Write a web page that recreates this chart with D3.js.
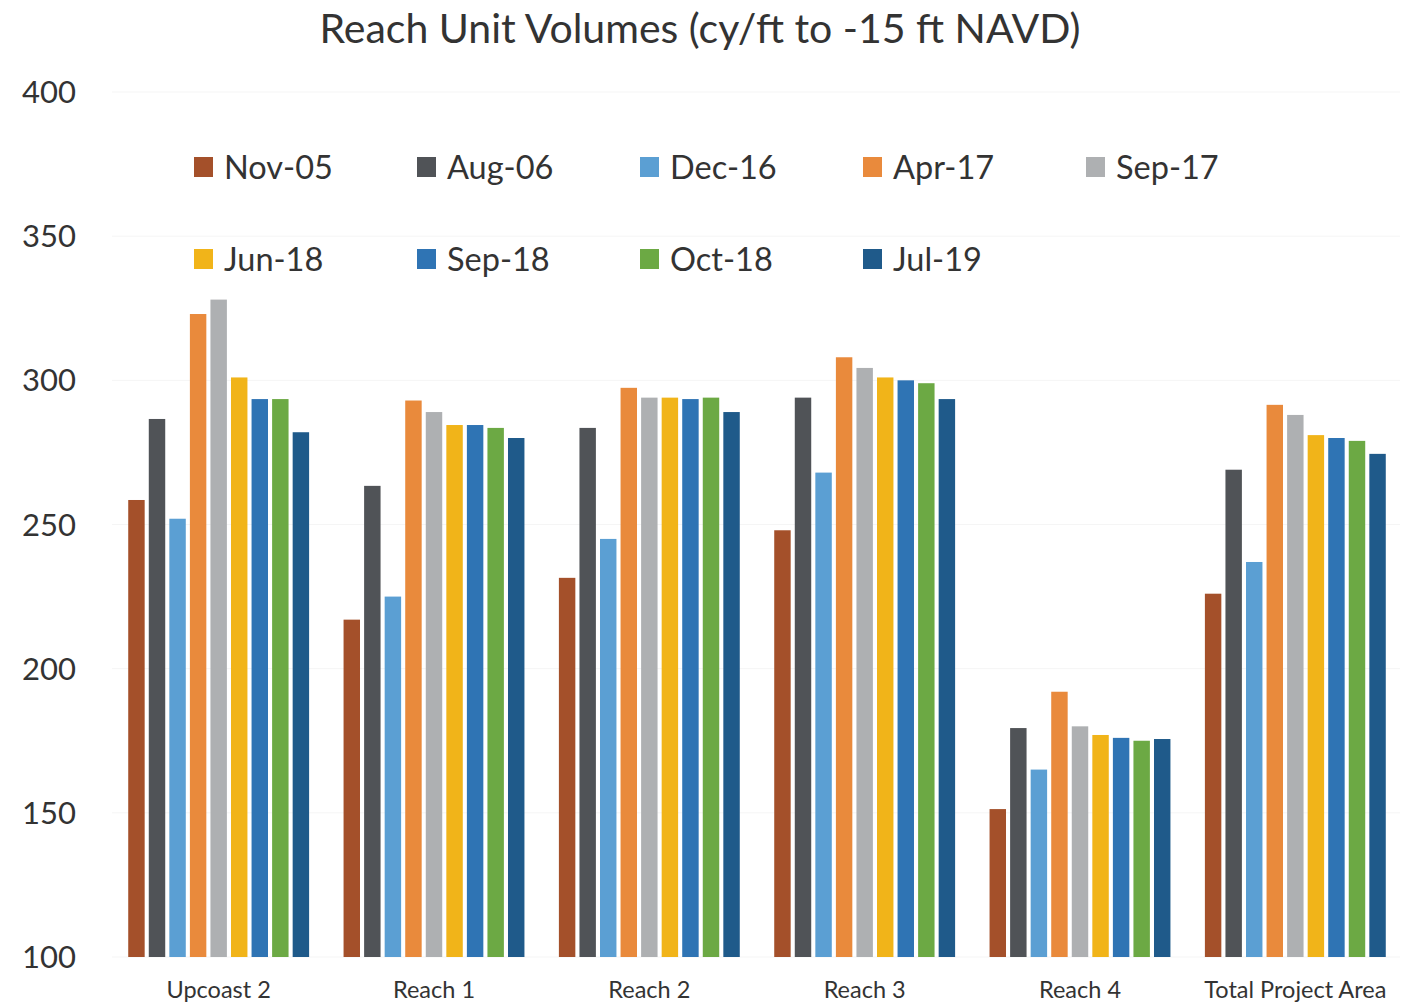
<!DOCTYPE html>
<html>
<head>
<meta charset="utf-8">
<script src="https://cdn.jsdelivr.net/npm/d3@7.9.0/dist/d3.min.js"></script>
<style>
  body { margin: 0; background: #fff; }
  svg { display: block; font-family: Lato, "Open Sans", sans-serif; }
</style>
</head>
<body>
<svg id="chart" width="1406" height="1005"></svg>
<script>
// Categories (reaches) and survey dates
const reaches = ['Upcoast 2', 'Reach 1', 'Reach 2', 'Reach 3', 'Reach 4', 'Total Project Area'];
const surveys = ['Nov-05', 'Aug-06', 'Dec-16', 'Apr-17', 'Sep-17', 'Jun-18', 'Sep-18', 'Oct-18', 'Jul-19'];
const colors = ['#a4502a', '#505357', '#5b9fd3', '#e98a3c', '#aeb0b2', '#f1b419', '#2f74b4', '#6ca944', '#1f5a8a'];

// values per survey, in reach order
const nov05 = [258.5, 217, 231.5, 248, 151.3, 226];
const aug06 = [286.6, 263.4, 283.5, 294, 179.4, 269];
const dec16 = [252, 225, 245, 268, 165, 237];
const apr17 = [323, 293, 297.4, 308, 192, 291.5];
const sep17 = [328, 289, 294, 304.3, 180, 288];
const jun18 = [301, 284.5, 294, 301, 177, 281];
const sep18 = [293.5, 284.5, 293.5, 300, 176, 280];
const oct18 = [293.5, 283.5, 294, 299, 175, 279];
const jul19 = [282, 280, 289, 293.5, 175.6, 274.5];
const series = [nov05, aug06, dec16, apr17, sep17, jun18, sep18, oct18, jul19];

const yTicks = [100, 150, 200, 250, 300, 350, 400];

const svg = d3.select('#chart');

const x0 = d3.scaleBand().domain(reaches).range([111, 1403]).paddingInner(0.16).paddingOuter(0.08);
const x1 = d3.scaleBand().domain(surveys).range([0, x0.bandwidth()]).paddingInner(0.2);
const y = d3.scaleLinear().domain([100, 400]).range([957, 92]);

// faint gridlines
svg.append('g')
  .selectAll('line')
  .data(yTicks)
  .join('line')
  .attr('x1', 112).attr('x2', 1400)
  .attr('y1', d => y(d)).attr('y2', d => y(d))
  .attr('stroke', '#f5f5f5')
  .attr('stroke-width', 1);

// y tick labels
svg.append('g')
  .selectAll('text')
  .data(yTicks)
  .join('text')
  .attr('x', 76)
  .attr('y', d => y(d))
  .attr('dy', '0.36em')
  .attr('text-anchor', 'end')
  .attr('font-size', 31)
  .attr('fill', '#333')
  .text(d => d);

// bars
const groups = svg.append('g')
  .selectAll('g')
  .data(reaches)
  .join('g')
  .attr('transform', d => `translate(${x0(d)},0)`);

groups.selectAll('rect')
  .data((r, i) => surveys.map((s, j) => ({ s, j, v: series[j][i] })))
  .join('rect')
  .attr('x', d => x1(d.s))
  .attr('width', x1.bandwidth())
  .attr('y', d => y(d.v))
  .attr('height', d => y(100) - y(d.v))
  .attr('fill', d => colors[d.j]);

// x labels
svg.append('g')
  .selectAll('text')
  .data(reaches)
  .join('text')
  .attr('x', d => x0(d) + x0.bandwidth() / 2)
  .attr('y', 998)
  .attr('text-anchor', 'middle')
  .attr('font-size', 23.5)
  .attr('fill', '#333')
  .text(d => d);

// title
svg.append('text')
  .attr('x', 700)
  .attr('y', 43)
  .attr('text-anchor', 'middle')
  .attr('font-size', 41)
  .attr('fill', '#333')
  .text('Reach Unit Volumes (cy/ft to -15 ft NAVD)');

// legend, two rows
const legend = svg.append('g');
surveys.forEach((s, i) => {
  const row = Math.floor(i / 5), col = i % 5;
  const lx = 194 + col * 223, ly = 167 + row * 92;
  legend.append('rect')
    .attr('x', lx).attr('y', ly - 10)
    .attr('width', 19).attr('height', 20)
    .attr('fill', colors[i]);
  legend.append('text')
    .attr('x', lx + 30).attr('y', ly)
    .attr('dy', '0.36em')
    .attr('font-size', 32.5)
    .attr('fill', '#333')
    .text(s);
});
</script>
</body>
</html>
